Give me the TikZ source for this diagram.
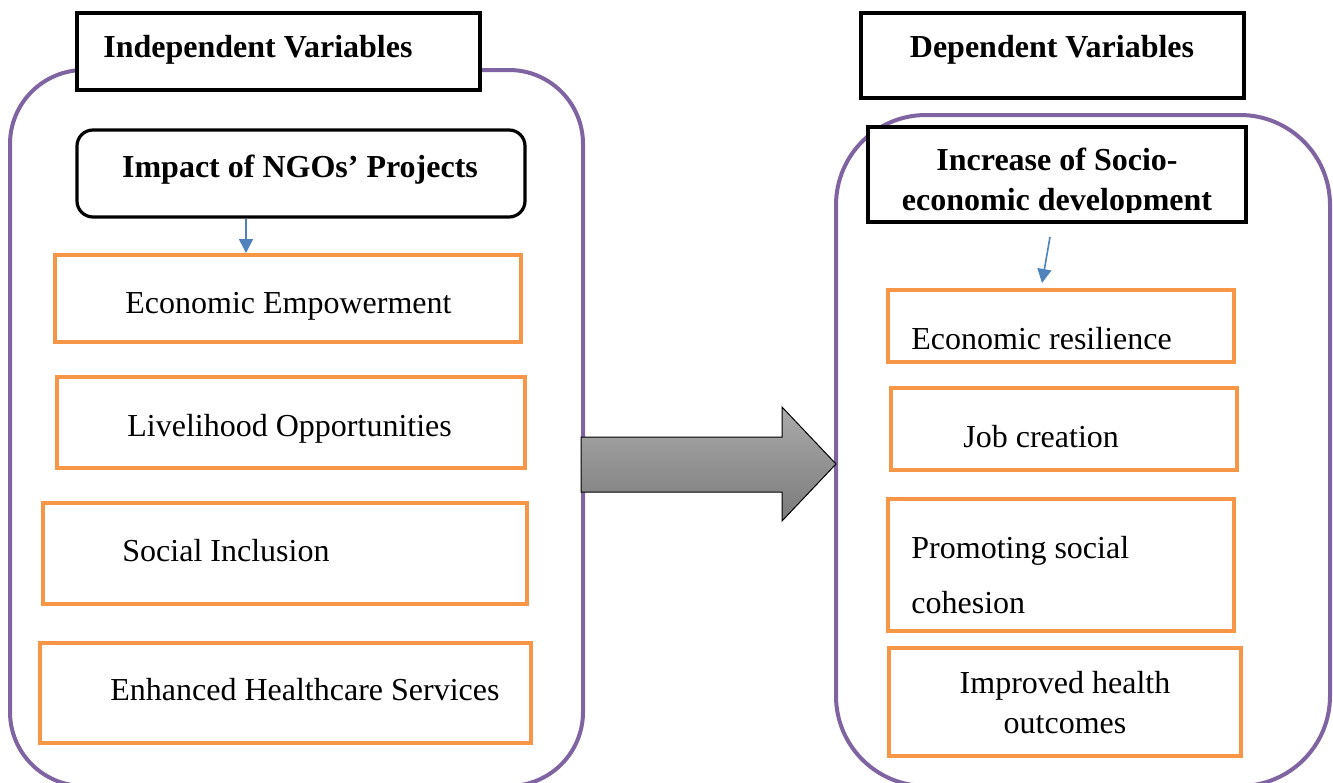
\documentclass[tikz,border=0pt]{standalone}
\usepackage{fontspec}
\setmainfont{Liberation Serif}
\usetikzlibrary{arrows.meta}
\definecolor{cpurple}{HTML}{8064A2}
\definecolor{corange}{HTML}{F79646}
\definecolor{cblue}{HTML}{4F81BD}
\tikzset{
  x=0.5pt, y=-0.5pt,
  container/.style={draw=cpurple, line width=2pt},
  obox/.style={draw=corange, line width=2pt, fill=white, inner sep=0pt},
  hbox/.style={draw=black, line width=1.6pt, fill=white, inner sep=0pt},
  txt/.style={inner sep=0pt, anchor=base west, font=\fontsize{16}{19}\selectfont},
  btxt/.style={inner sep=0pt, anchor=base, font=\fontsize{16}{20}\selectfont\bfseries, align=center},
  barrow/.style={draw=cblue, line width=0.8pt, -{Triangle[length=7pt,width=7pt]}},
}
\begin{document}
\begin{tikzpicture}
\useasboundingbox (0,0) rectangle (1333,782);
% containers
\draw[container, rounded corners=37pt] (10,70) rectangle (583,786);
\draw[container, rounded corners=45pt] (836,115) rectangle (1330,786);
% header boxes
\node[hbox, minimum width=201.5pt, minimum height=38.5pt] (iv) at (278.5,51.5) {};
\node[btxt, anchor=base west] at (103,57) {Independent Variables};
\node[hbox, minimum width=191.5pt, minimum height=42.5pt] (dv) at (1052.5,55.5) {};
\node[btxt] at (1052,57) {Dependent Variables};
\node[hbox, rounded corners=8pt, minimum width=224pt, minimum height=43.5pt] (impact) at (301,173.5) {};
\node[btxt] at (300,177) {Impact of NGOs’ Projects};
\node[hbox, line width=2pt, minimum width=189pt, minimum height=47.5pt] (inc) at (1057,174.5) {};
\begin{scope}
\clip (868,127) rectangle (1246,212);
\node[btxt, anchor=base] at (1057,210) {Increase of Socio-\\economic development};
\end{scope}
% left boxes
\node[obox, minimum width=233pt, minimum height=43.5pt] (ee) at (288,298.5) {};
\node[txt] at (125,313) {Economic Empowerment};
\node[obox, minimum width=234pt, minimum height=45.5pt] (lo) at (291,422.5) {};
\node[txt] at (127,436) {Livelihood Opportunities};
\node[obox, minimum width=242pt, minimum height=50.5pt] (si) at (285,553.5) {};
\node[txt] at (122,561) {Social Inclusion};
\node[obox, minimum width=245.5pt, minimum height=50pt] (eh) at (285.5,693) {};
\node[txt] at (110,700) {Enhanced Healthcare Services};
% right boxes
\node[obox, minimum width=173pt, minimum height=36pt] (er) at (1061,326) {};
\node[txt] at (911,349) {Economic resilience};
\node[obox, minimum width=173pt, minimum height=41pt] (jc) at (1064,429) {};
\node[txt] at (963,447) {Job creation};
\node[obox, minimum width=173pt, minimum height=66pt] (ps) at (1061,565) {};
\node[txt] at (911,558) {Promoting social};
\node[txt] at (911,613) {cohesion};
\node[obox, minimum width=176pt, minimum height=54pt] (ih) at (1065,702) {};
\node[txt, anchor=base, align=center, font=\fontsize{16}{20}\selectfont] at (1065,733) {Improved health\\outcomes};
% small arrows
\coordinate (a1) at (246,0);
\draw[barrow] (impact.south -| a1) -- (ee.north -| a1);
\coordinate (b1) at (1050,237);
\coordinate (b2) at (1042,283);
\draw[barrow] (b1) -- (b2);
% big arrow
\shadedraw[top color=black!33, bottom color=black!52, draw=black, line width=0.5pt]
  (581,437) -- (782,437) -- (782,407) -- (836,464) -- (782,521) -- (782,492) -- (581,492) -- cycle;
\end{tikzpicture}
\end{document}
